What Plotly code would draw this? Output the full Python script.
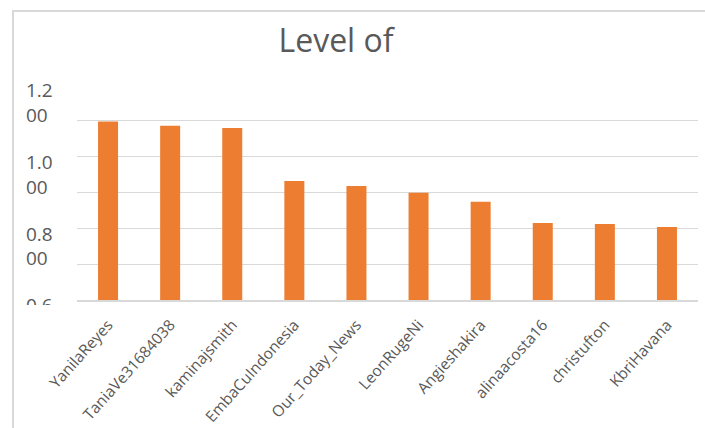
import plotly.graph_objects as go

# Accounts and their scores
accounts = ["YanilaReyes", "TaniaVe31684038", "kaminajsmith", "EmbaCuIndonesia",
            "Our_Today_News", "LeonRugeNi", "Angieshakira", "alinaacosta16",
            "christufton", "KbriHavana"]
levels = [1.098, 1.086, 1.080, 0.932, 0.918, 0.899, 0.874, 0.815, 0.812, 0.804]

# Value axis labels (wrapped in the narrow label column)
ytick_vals = [1.2, 1.0, 0.8, 0.6]
ytick_text = ["1.200", "1.000", "0.800", "0.600"]

title_text = "Level of"

W, H = 705, 428
TEXT = "#595959"
GRID = "#D9D9D9"
BAR = "#ED7D31"
FONT = "Open Sans"

# plot area in pixels
px_left, px_right = 77, 698
px_top, px_bottom = 85, 300
y_min, y_max = 0.6, 1.2
units_per_px = (y_max - y_min) / (px_bottom - px_top)

# label column: a small overlay subplot so the bottom label gets clipped
lab_top, lab_bottom = 60, 305
lab_lo = y_min - (lab_bottom - px_bottom) * units_per_px
lab_hi = y_max + (px_top - lab_top) * units_per_px
lab_lift = 2 * units_per_px

fig = go.Figure()

fig.add_trace(go.Bar(
    x=accounts, y=levels, marker=dict(color=BAR, line=dict(width=0)),
    hoverinfo="x+y", xaxis="x", yaxis="y",
))

wrapped = [s[:3] + "<br>" + s[3:] for s in ytick_text]
fig.add_trace(go.Scatter(
    x=[26] * len(ytick_vals), y=[v + lab_lift for v in ytick_vals],
    text=wrapped, mode="text",
    textposition="bottom right", cliponaxis=True,
    textfont=dict(family=FONT, size=19, color=TEXT),
    hoverinfo="skip", xaxis="x2", yaxis="y2", showlegend=False,
))

fig.update_layout(
    width=W, height=H,
    margin=dict(l=0, r=0, t=0, b=0),
    paper_bgcolor="white", plot_bgcolor="white",
    template="none",
    showlegend=False,
    bargap=1 - 20 / ((px_right - px_left) / len(accounts)),
    title=dict(
        text=title_text, x=336 / W, xanchor="center", xref="paper",
        y=1 - 41 / H, yanchor="middle", yref="paper",
        font=dict(family=FONT, size=32, color=TEXT),
    ),
    xaxis=dict(
        domain=[px_left / W, px_right / W], anchor="y",
        type="category", range=[-0.5, len(accounts) - 0.5],
        showgrid=False, zeroline=False,
        showline=True, linecolor=GRID, linewidth=1.5,
        ticks="", tickangle=-48, automargin=False,
        ticklabelstandoff=8,
        tickfont=dict(family=FONT, size=15.5, color=TEXT),
    ),
    yaxis=dict(
        domain=[1 - px_bottom / H, 1 - px_top / H], anchor="x",
        range=[y_min, y_max], dtick=0.1, tick0=0,
        showgrid=True, gridcolor=GRID, gridwidth=1.3,
        zeroline=False, showline=False, showticklabels=False,
        ticks="", automargin=False,
    ),
    xaxis2=dict(
        domain=[0, px_left / W], anchor="y2", range=[0, px_left],
        visible=False, fixedrange=True,
    ),
    yaxis2=dict(
        domain=[1 - lab_bottom / H, 1 - lab_top / H], anchor="x2",
        range=[lab_lo, lab_hi], visible=False, fixedrange=True,
    ),
    shapes=[
        dict(type="line", xref="paper", yref="paper",
             x0=13 / W, x1=13 / W, y0=0, y1=1 - 11 / H,
             line=dict(color=GRID, width=2), layer="above"),
        dict(type="line", xref="paper", yref="paper",
             x0=12 / W, x1=1, y0=1 - 11 / H, y1=1 - 11 / H,
             line=dict(color=GRID, width=2), layer="above"),
    ],
)

fig.write_html("out.html")
